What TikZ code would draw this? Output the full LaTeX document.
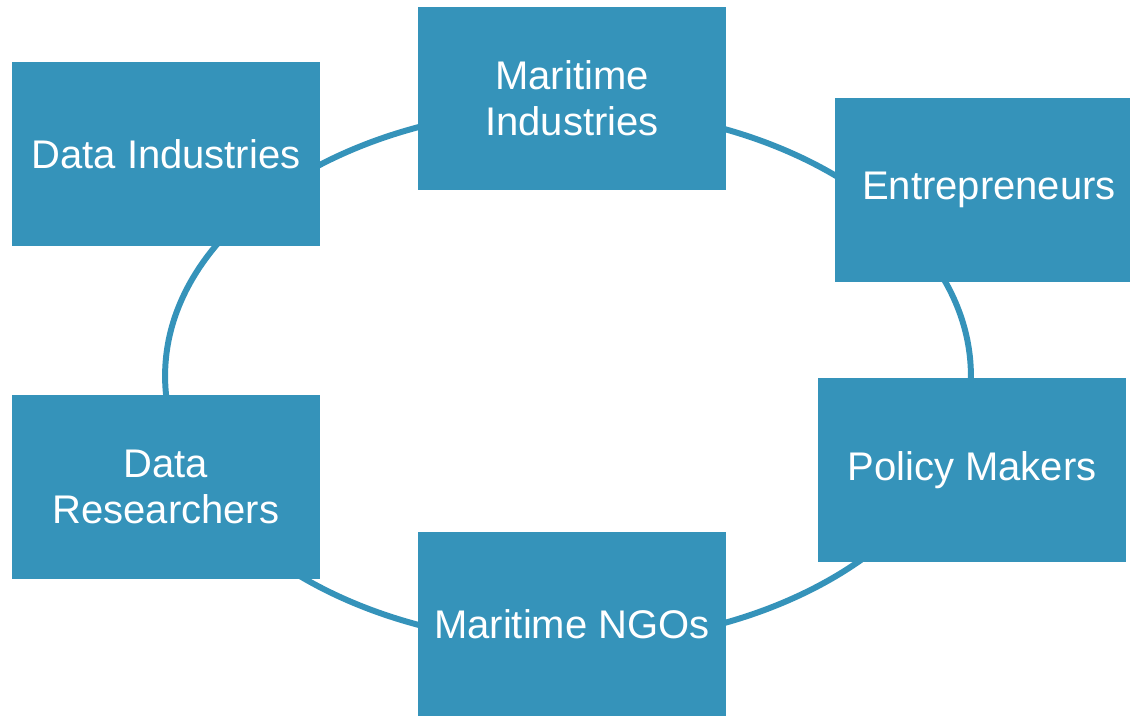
\documentclass[tikz,border=0pt]{standalone}
\usepackage{fontspec}
\setmainfont{Liberation Sans}
\definecolor{boxblue}{HTML}{3593BA}
\begin{document}
\begin{tikzpicture}[x=0.02cm,y=-0.02cm]
    \tikzstyle{group} = [rectangle, fill=boxblue, text=white, minimum width=6.16cm, minimum height=3.68cm, inner sep=0pt, align=center, font=\fontsize{22.76}{26.2}\selectfont]
    \tikzstyle{ring} = [draw=boxblue, line width=3.4pt]

      \useasboundingbox (0,0) rectangle (1130,716);
      \coordinate (c) at (568,376);
      \draw[ring] (c) ellipse [x radius=8.06cm, y radius=5.36cm];

      \draw
        (166, 154) node[group] (0){Data Industries}
        (572, 98.5) node[group] (1){Maritime\\Industries}
        (989, 190) node[group] (2){Entrepreneurs}
        (972, 470) node[group] (3){Policy Makers}
        (572, 624) node[group] (4){Maritime NGOs}
        (166, 487) node[group] (5){Data\\Researchers};
    \end{tikzpicture}
\end{document}
